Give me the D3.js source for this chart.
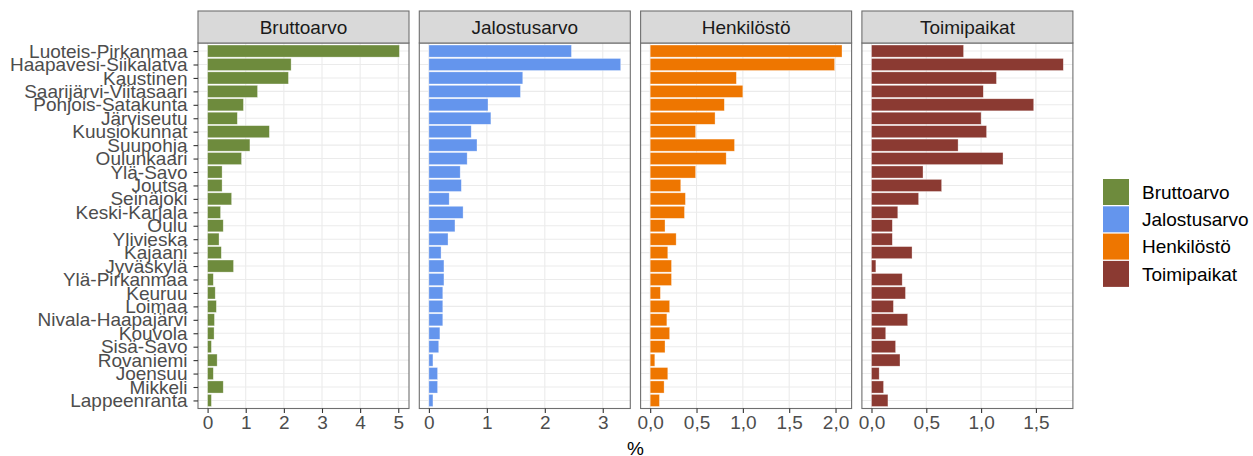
<!DOCTYPE html>
<html>
<head>
<meta charset="utf-8">
<script src="https://cdn.jsdelivr.net/npm/d3@7"></script>
<style>
  body { margin: 0; background: #fff; }
  svg { font-family: "Liberation Sans", Arial, sans-serif; }
</style>
</head>
<body>
<svg id="chart" width="1253" height="456"></svg>
<script>
// data
const regions = [
  "Luoteis-Pirkanmaa", "Haapavesi-Siikalatva", "Kaustinen", "Saarijärvi-Viitasaari",
  "Pohjois-Satakunta", "Järviseutu", "Kuusiokunnat", "Suupohja", "Oulunkaari",
  "Ylä-Savo", "Joutsa", "Seinäjoki", "Keski-Karjala", "Oulu", "Ylivieska", "Kajaani",
  "Jyväskylä", "Ylä-Pirkanmaa", "Keuruu", "Loimaa", "Nivala-Haapajärvi", "Kouvola",
  "Sisä-Savo", "Rovaniemi", "Joensuu", "Mikkeli", "Lappeenranta"
];
const measures = ["Bruttoarvo", "Jalostusarvo", "Henkilöstö", "Toimipaikat"];

const bruttoarvo = [5.03, 2.19, 2.12, 1.31, 0.94, 0.78, 1.62, 1.11, 0.89, 0.38, 0.38, 0.63, 0.34,
  0.41, 0.30, 0.36, 0.68, 0.15, 0.20, 0.23, 0.18, 0.17, 0.10, 0.25, 0.15, 0.41, 0.10];
const jalostusarvo = [2.46, 3.31, 1.62, 1.58, 1.02, 1.07, 0.73, 0.83, 0.66, 0.54, 0.56, 0.35, 0.59,
  0.45, 0.33, 0.21, 0.26, 0.26, 0.24, 0.24, 0.24, 0.19, 0.17, 0.07, 0.15, 0.15, 0.07];
const henkilosto = [2.07, 1.99, 0.93, 1.00, 0.80, 0.70, 0.49, 0.91, 0.82, 0.49, 0.33, 0.38, 0.37,
  0.16, 0.28, 0.19, 0.23, 0.23, 0.11, 0.21, 0.18, 0.21, 0.16, 0.05, 0.19, 0.15, 0.10];
const toimipaikat = [0.84, 1.75, 1.14, 1.02, 1.48, 1.00, 1.05, 0.79, 1.20, 0.47, 0.64, 0.43, 0.24,
  0.19, 0.19, 0.37, 0.04, 0.28, 0.31, 0.20, 0.33, 0.13, 0.22, 0.26, 0.07, 0.11, 0.15];

const series = [bruttoarvo, jalostusarvo, henkilosto, toimipaikat];
const xTicks = [[0, 1, 2, 3, 4, 5], [0, 1, 2, 3], [0, 0.5, 1, 1.5, 2], [0, 0.5, 1, 1.5]];
const xTitle = "%";

const colors = ["#6E8B3D", "#6495ED", "#EE7600", "#8B3A32"];

const svg = d3.select("#chart");
const panelLeft = 198, panelW = 211, gap = 10.3;
const stripTop = 11, panelTop = 43, panelBottom = 408.5;
const fontSize = 19;

const fi = d3.formatLocale({ decimal: ",", thousands: " ", grouping: [3], currency: ["", "€"] });
const fmtInt = fi.format("d"), fmtDec = fi.format(".1f");

const y = d3.scalePoint()
  .domain(regions)
  .range([panelTop, panelBottom])
  .padding(0.6);
const barH = y.step() * 0.9;

measures.forEach((m, i) => {
  const x0 = panelLeft + i * (panelW + gap);
  const vals = series[i];
  const mx = d3.max(vals);
  const x = d3.scaleLinear()
    .domain([-0.05 * mx, 1.05 * mx])
    .range([x0, x0 + panelW]);

  const g = svg.append("g");

  // panel background + grid
  g.append("rect")
    .attr("x", x0).attr("y", panelTop)
    .attr("width", panelW).attr("height", panelBottom - panelTop)
    .attr("fill", "#fff");

  g.append("g")
    .selectAll("line")
    .data(regions)
    .join("line")
    .attr("x1", x0).attr("x2", x0 + panelW)
    .attr("y1", d => y(d)).attr("y2", d => y(d))
    .attr("stroke", "#EBEBEB").attr("stroke-width", 1.1);

  g.append("g")
    .selectAll("line")
    .data(xTicks[i])
    .join("line")
    .attr("x1", d => x(d)).attr("x2", d => x(d))
    .attr("y1", panelTop).attr("y2", panelBottom)
    .attr("stroke", "#EBEBEB").attr("stroke-width", 1.1);

  // bars
  g.append("g")
    .selectAll("rect")
    .data(regions)
    .join("rect")
    .attr("x", x(0))
    .attr("y", d => y(d) - barH / 2)
    .attr("width", (d, j) => x(vals[j]) - x(0))
    .attr("height", barH)
    .attr("fill", colors[i])
    .attr("stroke", "#fff")
    .attr("stroke-opacity", 0.55)
    .attr("stroke-width", 0.6);

  // panel border
  g.append("rect")
    .attr("x", x0).attr("y", panelTop)
    .attr("width", panelW).attr("height", panelBottom - panelTop)
    .attr("fill", "none")
    .attr("stroke", "#6f6f6f").attr("stroke-width", 1.1);

  // strip
  g.append("rect")
    .attr("x", x0).attr("y", stripTop)
    .attr("width", panelW).attr("height", panelTop - stripTop)
    .attr("fill", "#D9D9D9")
    .attr("stroke", "#6f6f6f").attr("stroke-width", 1.1);
  g.append("text")
    .attr("x", x0 + panelW / 2)
    .attr("y", (stripTop + panelTop) / 2)
    .attr("dy", "0.35em")
    .attr("text-anchor", "middle")
    .attr("font-size", fontSize)
    .attr("fill", "#1A1A1A")
    .text(m);

  // x axis
  const fmt = xTicks[i].some(t => t % 1 !== 0) ? fmtDec : fmtInt;
  const ax = svg.append("g")
    .attr("transform", `translate(0,${panelBottom})`)
    .call(d3.axisBottom(x).tickValues(xTicks[i]).tickSize(4.5).tickPadding(3).tickFormat(fmt));
  ax.select(".domain").remove();
  ax.selectAll(".tick line").attr("stroke", "#333").attr("stroke-width", 1.1);
  ax.selectAll(".tick text")
    .attr("font-family", null)
    .attr("font-size", fontSize)
    .attr("fill", "#4D4D4D");
});

// y axis on the first panel
const ay = svg.append("g")
  .attr("transform", `translate(${panelLeft},0)`)
  .call(d3.axisLeft(y).tickSize(4.5).tickPadding(6));
ay.select(".domain").remove();
ay.selectAll(".tick line").attr("stroke", "#333").attr("stroke-width", 1.1);
ay.selectAll(".tick text")
  .attr("font-family", null)
  .attr("font-size", fontSize)
  .attr("fill", "#4D4D4D");

// x title
svg.append("text")
  .attr("x", panelLeft + (4 * panelW + 3 * gap) / 2)
  .attr("y", 455)
  .attr("text-anchor", "middle")
  .attr("font-size", fontSize)
  .attr("fill", "#000")
  .text(xTitle);

// legend
const legend = svg.append("g").attr("transform", "translate(1103,179)");
const keyStep = 27.3, keySize = 26;
legend.selectAll("rect")
  .data(measures)
  .join("rect")
  .attr("x", 0)
  .attr("y", (d, i) => i * keyStep)
  .attr("width", keySize).attr("height", keySize)
  .attr("fill", (d, i) => colors[i]);
legend.selectAll("text")
  .data(measures)
  .join("text")
  .attr("x", 39)
  .attr("y", (d, i) => i * keyStep + keySize / 2)
  .attr("dy", "0.35em")
  .attr("font-size", fontSize)
  .attr("fill", "#000")
  .text(d => d);
</script>
</body>
</html>
